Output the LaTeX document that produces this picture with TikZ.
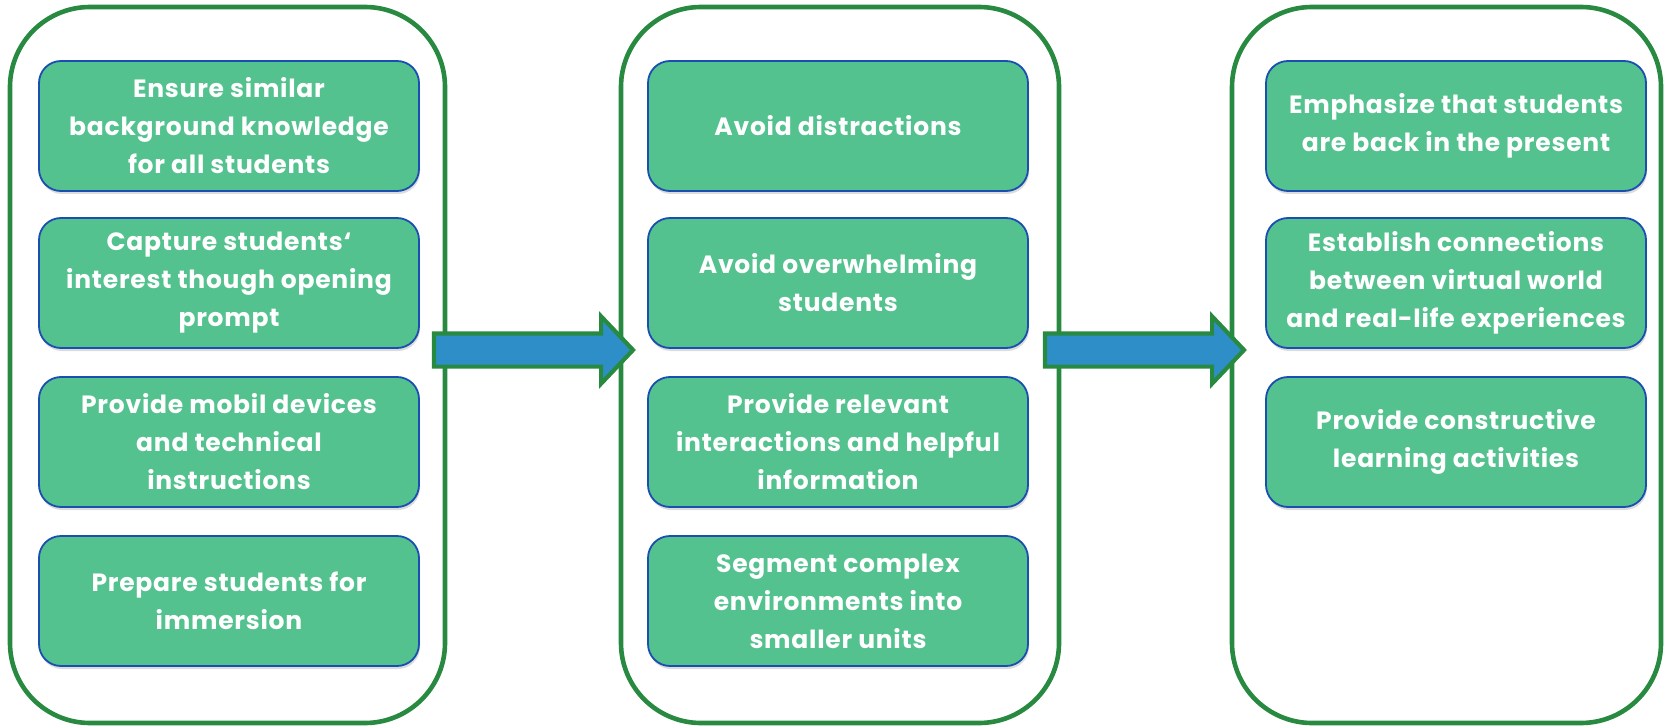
\documentclass[tikz,border=0pt]{standalone}
\usepackage{fontspec}
\setmainfont{Poppins}[LetterSpace=3]
\usetikzlibrary{shapes.arrows,shadows}
\definecolor{framegreen}{RGB}{40,138,64}
\definecolor{stepfill}{RGB}{83,194,143}
\definecolor{stepline}{RGB}{26,78,176}
\definecolor{arrowblue}{RGB}{46,143,200}
\begin{document}
\begin{tikzpicture}[x=1pt,y=-1pt,
  phase/.style={draw=framegreen,line width=4.6pt,rounded corners=80pt,
    minimum height=716pt,inner sep=0pt},
  stepbox/.style={draw=stepline,line width=1.8pt,fill=stepfill,rounded corners=22pt,
    minimum width=380pt,minimum height=130pt,inner sep=0pt,text=white,
    align=center,font=\fontsize{25}{38}\selectfont\bfseries,
    drop shadow={opacity=0.28,shadow xshift=1pt,shadow yshift=-3pt}},
  blockarrow/.style={single arrow,draw=framegreen,line width=4.2pt,fill=arrowblue,
    minimum height=199pt,inner xsep=0pt,inner ysep=14.5pt,outer sep=0pt,
    single arrow head extend=17pt,single arrow tip angle=93,line join=miter,
    anchor=tail}]
\useasboundingbox (0,0) rectangle (1664,727);
% phase frames
\node[phase,minimum width=435pt] (f1) at (227.5,365) {};
\node[phase,minimum width=438pt] (f2) at (840,365) {};
\node[phase,minimum width=429pt] (f3) at (1446.5,365) {};
% first phase
\node[stepbox] (a1) at (229,126) {Ensure similar\\background knowledge\\for all students};
\node[stepbox] (a2) at (229,283) {Capture students‘\\interest though opening\\prompt};
\node[stepbox] (a3) at (229,442) {Provide mobil devices\\and technical\\instructions};
\node[stepbox] (a4) at (229,601) {Prepare students for\\immersion};
% second phase
\node[stepbox] (b1) at (838,126) {Avoid distractions};
\node[stepbox] (b2) at (838,283) {Avoid overwhelming\\students};
\node[stepbox] (b3) at (838,442) {Provide relevant\\interactions and helpful\\information};
\node[stepbox] (b4) at (838,601) {Segment complex\\environments into\\smaller units};
% third phase
\node[stepbox] (c1) at (1456,126) {Emphasize that students\\are back in the present};
\node[stepbox] (c2) at (1456,283) {Establish connections\\between virtual world\\and real-life experiences};
\node[stepbox] (c3) at (1456,442) {Provide constructive\\learning activities};
% transitions between phases
\node[blockarrow] (t1) at (434,350) {};
\node[blockarrow] (t2) at (1045,350) {};
\end{tikzpicture}
\end{document}
